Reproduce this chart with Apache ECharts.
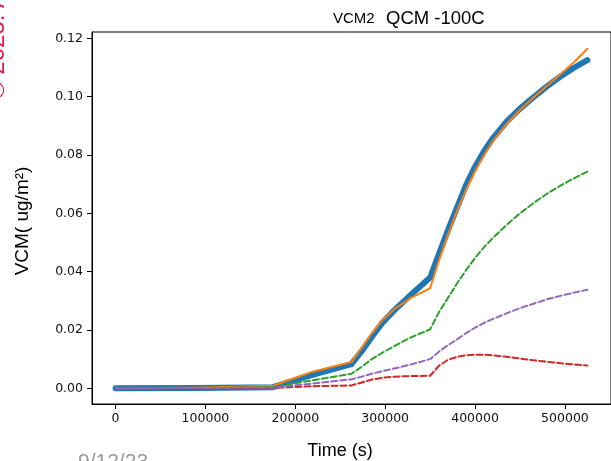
<!DOCTYPE html>
<html>
<head>
<meta charset="utf-8">
<script src="https://cdn.jsdelivr.net/npm/echarts@6/dist/echarts.min.js"></script>
<style>
html,body{margin:0;padding:0;background:#fff;}
#chart{width:611px;height:461px;}
</style>
</head>
<body>
<div id="chart"></div>
<script>
// ---- data ----
var timeS = [0, 87500, 175000, 218000, 262500, 274000, 285000, 297000, 310000, 329000, 350000,
             360000, 370000, 380000, 390000, 400000, 410000, 420000, 435000, 450000, 465000, 480000, 495000, 510000, 525000];
var vcmBlue   = [0, 0.0001, 0.0004, 0.0045, 0.0083, 0.0128, 0.0176, 0.0225, 0.0267, 0.0322, 0.0380,
                 0.0462, 0.0543, 0.0620, 0.0697, 0.0760, 0.0813, 0.0858, 0.0914, 0.0959, 0.0998, 0.1035, 0.1069, 0.1099, 0.1125];
var vcmOrange = [0, 0.0002, 0.0009, 0.0056, 0.0090, 0.0140, 0.0188, 0.0234, 0.0271, 0.0311, 0.0343,
                 0.0440, 0.0528, 0.0608, 0.0680, 0.0744, 0.0800, 0.0848, 0.0906, 0.0954, 0.0997, 0.1037, 0.1077, 0.1118, 0.1164];
var vcmGreen  = [0, 0.0001, 0.0004, 0.0027, 0.0050, 0.0074, 0.0100, 0.0122, 0.0145, 0.0175, 0.0202,
                 0.0262, 0.0311, 0.0360, 0.0405, 0.0447, 0.0484, 0.0516, 0.0560, 0.0600, 0.0635, 0.0667, 0.0695, 0.0720, 0.0743];
var vcmRed    = [0, 0.0000, 0.0001, 0.0007, 0.0010, 0.0020, 0.0030, 0.0036, 0.0040, 0.0042, 0.0043,
                 0.0078, 0.0098, 0.0108, 0.0113, 0.0115, 0.0115, 0.0113, 0.0108, 0.0102, 0.0096, 0.0091, 0.0086, 0.0082, 0.0078];
var vcmPurple = [0, 0.0001, 0.0002, 0.0016, 0.0031, 0.0040, 0.0050, 0.0059, 0.0068, 0.0082, 0.0100,
                 0.0126, 0.0148, 0.0168, 0.0189, 0.0208, 0.0224, 0.0238, 0.0257, 0.0275, 0.0290, 0.0305, 0.0317, 0.0328, 0.0338];
var xTicks = [0, 100000, 200000, 300000, 400000, 500000];
var yTicks = [0, 0.02, 0.04, 0.06, 0.08, 0.10, 0.12];
var titleSmall = "VCM2";
var titleMain = "QCM -100C";
var xLabel = "Time (s)";
var yLabel = "VCM( ug/m\u00B2)";
var dateText = "9/12/23";
var copyText = "\u00A9 2023. A";

function pairs(vals){ return timeS.map(function(t,i){ return [t, vals[i]]; }); }

var chart = echarts.init(document.getElementById('chart'), null, {renderer:'canvas'});
var tickFont = {fontFamily:'DejaVu Sans', fontSize:12.5, color:'#111'};

function lineSeries(name, vals, color, width, dashed, z){
  return {
    name:name, type:'line', data:pairs(vals), showSymbol:false, symbol:'none',
    animation:false, z:z,
    lineStyle:{color:color, width:width, type: dashed ? [6,3] : 'solid', cap:'round', join:'round'}
  };
}

chart.setOption({
  backgroundColor:'#fff',
  animation:false,
  grid:{left:92, top:32, right:-3.4, bottom:57, show:true, borderColor:'#000', borderWidth:1, backgroundColor:'transparent'},
  xAxis:{
    type:'value', min:-26250, max:551250,
    axisLine:{show:true, onZero:false, lineStyle:{color:'#000', width:1}},
    axisTick:{show:true, inside:false, length:5, customValues:xTicks, lineStyle:{color:'#000'}},
    axisLabel:Object.assign({margin:8, customValues:xTicks, formatter:function(v){return String(v);}}, tickFont),
    splitLine:{show:false}
  },
  yAxis:{
    type:'value', min:-0.00538, max:0.12216,
    axisLine:{show:true, onZero:false, lineStyle:{color:'#000', width:1}},
    axisTick:{show:true, inside:false, length:5, customValues:yTicks, lineStyle:{color:'#000'}},
    axisLabel:Object.assign({margin:9, customValues:yTicks, formatter:function(v){return v.toFixed(2);}}, tickFont),
    splitLine:{show:false}
  },
  series:[
    lineSeries('blue', vcmBlue, '#1f77b4', 6, false, 2),
    lineSeries('orange', vcmOrange, '#ff7f0e', 2, false, 3),
    lineSeries('green', vcmGreen, '#2ca02c', 2, true, 4),
    lineSeries('red', vcmRed, '#d62728', 2, true, 5),
    lineSeries('purple', vcmPurple, '#9467bd', 2, true, 6)
  ],
  graphic:[
    {type:'text', x:333, y:26.5, style:{text:titleSmall, font:'15px "Liberation Sans"', fill:'#000', textAlign:'left', textVerticalAlign:'bottom'}},
    {type:'text', x:386, y:28, style:{text:titleMain, font:'18.5px "Liberation Sans"', fill:'#000', textAlign:'left', textVerticalAlign:'bottom'}},
    {type:'text', x:340, y:451, style:{text:xLabel, font:'18px "Liberation Sans"', fill:'#000', textAlign:'center', textVerticalAlign:'middle'}},
    {type:'text', x:23, y:221, rotation:Math.PI/2, style:{text:yLabel, font:'19px "Liberation Sans"', fill:'#000', textAlign:'center', textVerticalAlign:'middle'}},
    {type:'text', x:78, y:452, style:{text:dateText, font:'21px "Liberation Sans"', fill:'#999', textAlign:'left', textVerticalAlign:'top'}},
    {type:'text', x:9, y:99, rotation:Math.PI/2, style:{text:copyText, font:'24px "Liberation Sans"', fill:'#e8174f', textAlign:'left', textVerticalAlign:'bottom'}}
  ]
});
</script>
</body>
</html>
